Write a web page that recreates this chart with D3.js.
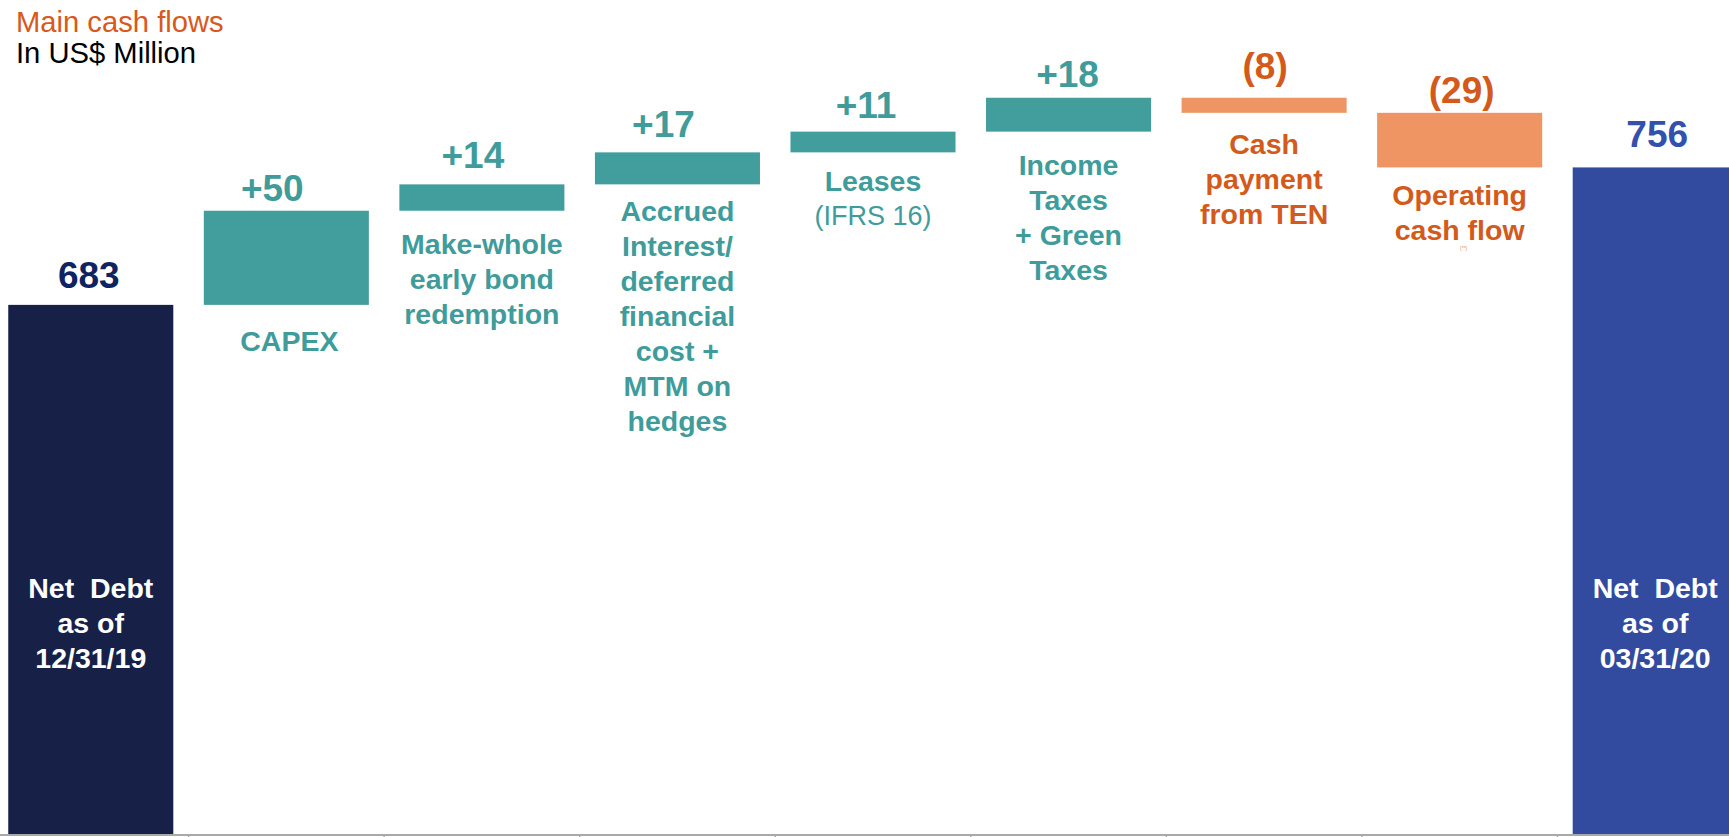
<!DOCTYPE html>
<html>
<head>
<meta charset="utf-8">
<script src="https://cdn.jsdelivr.net/npm/d3@7/dist/d3.min.js"></script>
<style>
  html, body { margin: 0; padding: 0; background: #ffffff; }
  svg { display: block; }
  text { font-family: "Liberation Sans", Arial, Helvetica, sans-serif; }
</style>
</head>
<body>
<svg id="chart" width="1729" height="837"></svg>
<script>
// Net debt bridge, Q1 2020 (US$ million)
const categories = ["start", "capex", "makewhole", "accrued", "leases", "taxes", "ten", "opcf", "end"];
const values = [683, 50, 14, 17, 11, 18, -8, -29, 756];
const kinds = ["total", "delta", "delta", "delta", "delta", "delta", "delta", "delta", "total"];
const valueLabels = ["683", "+50", "+14", "+17", "+11", "+18", "(8)", "(29)", "756"];
const categoryLines = [
  ["Net\u00a0\u00a0Debt", "as of", "12/31/19"],
  ["CAPEX"],
  ["Make-whole", "early bond", "redemption"],
  ["Accrued", "Interest/", "deferred", "financial", "cost +", "MTM on", "hedges"],
  ["Leases"],
  ["Income", "Taxes", "+ Green", "Taxes"],
  ["Cash", "payment", "from TEN"],
  ["Operating", "cash flow"],
  ["Net\u00a0\u00a0Debt", "as of", "03/31/20"]
];
const categoryNotes = [null, null, null, null, "(IFRS 16)", null, null, "(**)", null];
const titleLines = ["Main cash flows", "In US$ Million"];

// ---- layout ----
const W = 1729, H = 837;
const baseY = 834;
// hand-placed label nudges [dx, dy] in px, per category
const valueNudge = [[-2, -3], [-14, 4], [-9, -2], [-14, -1], [-7, 0], [-1, 3], [1, -5], [2, 4], [2, -6]];
const captionNudge = [[0, 0], [3, 5], [0, 2], [0, -4], [0, -2], [0, 2], [0, 0], [0, -3], [0, 0]];

const svg = d3.select("#chart");

// Running totals for the waterfall
let running = 0;
const bars = values.map((v, i) => {
  let lo, hi;
  if (kinds[i] === "total") {
    lo = null; hi = v; running = v;
  } else {
    const prev = running;
    running = prev + v;
    lo = Math.min(prev, running);
    hi = Math.max(prev, running);
  }
  return { key: categories[i], value: v, kind: kinds[i], lo, hi, i };
});

const x = d3.scaleBand()
  .domain(categories)
  .range([-7, 1753])
  .paddingInner(0.156)
  .paddingOuter(0.078);

const y = d3.scaleLinear()
  .domain([402, 800])
  .range([baseY, baseY - 398 * 1.883]);

const barFill = d => {
  if (d.kind === "total") return d.i === 0 ? "#172148" : "#324b9e";
  return d.value >= 0 ? "#429e9d" : "#ef9563";
};
const textFill = d => {
  if (d.kind === "total") return d.i === 0 ? "#0e2361" : "#3350ac";
  return d.value >= 0 ? "#409c9b" : "#d35a1b";
};

// Bars
svg.append("g").selectAll("rect")
  .data(bars)
  .join("rect")
  .attr("x", d => x(d.key))
  .attr("width", x.bandwidth())
  .attr("y", d => y(d.hi))
  .attr("height", d => (d.kind === "total" ? baseY : y(d.lo)) - y(d.hi))
  .attr("fill", barFill);

// Axis along the bottom, ticks between categories
const axisG = svg.append("g").attr("transform", `translate(0,${baseY + 1})`);
axisG.append("line")
  .attr("x1", 0).attr("x2", W)
  .attr("y1", 0).attr("y2", 0)
  .attr("stroke", "#a9a9a9").attr("stroke-width", 2);
axisG.selectAll("line.tick")
  .data(categories.slice(1))
  .join("line")
  .attr("class", "tick")
  .attr("x1", d => x(d) - x.step() * x.paddingInner() / 2)
  .attr("x2", d => x(d) - x.step() * x.paddingInner() / 2)
  .attr("y1", 0).attr("y2", 6)
  .attr("stroke", "#a9a9a9").attr("stroke-width", 1.5);

// Value labels above each bar
svg.append("g").selectAll("text")
  .data(bars)
  .join("text")
  .attr("x", d => x(d.key) + x.bandwidth() / 2 + valueNudge[d.i][0])
  .attr("y", d => y(d.hi) - 14 + valueNudge[d.i][1])
  .attr("text-anchor", "middle")
  .attr("font-size", 37)
  .attr("font-weight", "bold")
  .attr("fill", textFill)
  .text(d => valueLabels[d.i]);

// Category captions: below the step bars, inside the total bars
const lineH = 35;
const capG = svg.append("g");
bars.forEach(d => {
  const cx = x(d.key) + x.bandwidth() / 2 + captionNudge[d.i][0];
  const lines = categoryLines[d.i];
  let y0, fill;
  if (d.kind === "total") {
    y0 = baseY - 236;
    fill = "#ffffff";
  } else {
    y0 = y(d.lo) + 41 + captionNudge[d.i][1];
    fill = textFill(d);
  }
  const t = capG.append("text")
    .attr("text-anchor", "middle")
    .attr("font-size", 28.5)
    .attr("font-weight", "bold")
    .attr("fill", fill);
  lines.forEach((ln, k) => {
    t.append("tspan").attr("x", cx).attr("y", y0 + k * lineH).text(ln);
  });
  const note = categoryNotes[d.i];
  if (note) {
    const small = note === "(**)";
    capG.append("text")
      .attr("x", cx + (small ? 4 : 0))
      .attr("y", small ? y0 + (lines.length - 1) * lineH + 10 : y0 + lines.length * 34)
      .attr("text-anchor", "middle")
      .attr("font-size", small ? 5 : 27)
      .attr("fill", small ? "#e3895a" : fill)
      .text(note);
  }
});

// Title block
svg.append("text")
  .attr("x", 16).attr("y", 32)
  .attr("font-size", 29.2)
  .attr("fill", "#d9581b")
  .text(titleLines[0]);
svg.append("text")
  .attr("x", 16).attr("y", 63)
  .attr("font-size", 29.2)
  .attr("fill", "#000000")
  .text(titleLines[1]);
</script>
</body>
</html>
